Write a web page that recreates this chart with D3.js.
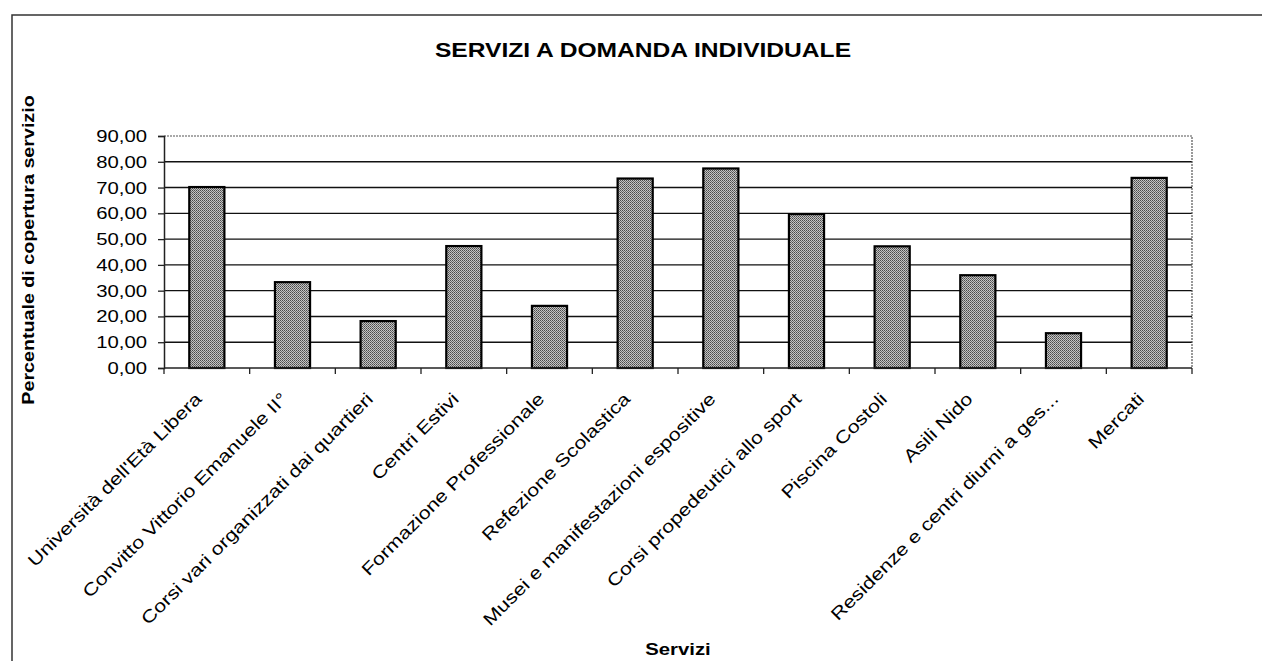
<!DOCTYPE html>
<html>
<head>
<meta charset="utf-8">
<script src="https://cdn.jsdelivr.net/npm/d3@7"></script>
<style>
  html, body { margin: 0; padding: 0; background: #fff; }
  svg { display: block; }
  text { font-family: "Liberation Sans", Arial, Helvetica, sans-serif; fill: #000; }
</style>
</head>
<body>
<svg id="chart" width="1262" height="661"></svg>
<script>
// Servizi a domanda individuale: percentuale di copertura per servizio
const categories = [
  "Università dell'Età Libera",
  "Convitto Vittorio Emanuele II°",
  "Corsi vari organizzati dai quartieri",
  "Centri Estivi",
  "Formazione Professionale",
  "Refezione Scolastica",
  "Musei e manifestazioni espositive",
  "Corsi propedeutici allo sport",
  "Piscina Costoli",
  "Asili Nido",
  "Residenze e centri diurni a ges...",
  "Mercati"
];
const coverage = [70.2, 33.3, 18.2, 47.3, 24.1, 73.5, 77.4, 59.7, 47.2, 36.0, 13.5, 73.75];
const yTicks = [0, 10, 20, 30, 40, 50, 60, 70, 80, 90];
const chartTitle = "SERVIZI A DOMANDA INDIVIDUALE";
const yTitle = "Percentuale di copertura servizio";
const xTitle = "Servizi";

const svg = d3.select("#chart");
const plot = { left: 164, right: 1192, top: 136, bottom: 368 };
const stretch = 1.23; // wide lettering

// halftone fill for the bars
const defs = svg.append("defs");
const pat = defs.append("pattern")
  .attr("id", "halftone").attr("patternUnits", "userSpaceOnUse")
  .attr("width", 2).attr("height", 2);
pat.append("rect").attr("width", 2).attr("height", 2).attr("fill", "#c4c4c4");
pat.append("rect").attr("width", 1).attr("height", 1).attr("fill", "#4a4a4a");
pat.append("rect").attr("x", 1).attr("y", 1).attr("width", 1).attr("height", 1).attr("fill", "#6a6a6a");

// outer chart frame (top and left edges)
svg.append("path")
  .attr("d", d3.line()([[12, 661], [12, 15], [1262, 15]]))
  .attr("fill", "none").attr("stroke", "#333").attr("stroke-width", 1.5);

const x = d3.scaleBand().domain(categories).range([plot.left, plot.right]).padding(0);
const y = d3.scaleLinear().domain([0, 90]).range([plot.bottom, plot.top]);

// gridlines
svg.append("g").selectAll("line")
  .data(yTicks.filter(d => d > 0 && d < 90))
  .join("line")
  .attr("x1", plot.left).attr("x2", plot.right)
  .attr("y1", d => y(d)).attr("y2", d => y(d))
  .attr("stroke", "#111").attr("stroke-width", 1.4);

// plot area border: top and right edges dotted
svg.append("path")
  .attr("d", d3.line()([[plot.left, y(90)], [plot.right, y(90)], [plot.right, y(0)]]))
  .attr("fill", "none").attr("stroke", "#555").attr("stroke-width", 1.2)
  .attr("stroke-dasharray", "2,1");

// bars
const barW = x.bandwidth() * 0.41;
svg.append("g").selectAll("rect")
  .data(categories.map((c, i) => ({ c, v: coverage[i] })))
  .join("rect")
  .attr("x", d => x(d.c) + x.bandwidth() / 2 - barW / 2)
  .attr("y", d => y(d.v))
  .attr("width", barW)
  .attr("height", d => y(0) - y(d.v))
  .attr("fill", "url(#halftone)")
  .attr("stroke", "#000").attr("stroke-width", 2.2);

// y axis
const yAxis = svg.append("g").attr("transform", `translate(${plot.left},0)`)
  .call(d3.axisLeft(y).tickValues(yTicks).tickSize(6).tickFormat(() => ""));
yAxis.select(".domain").attr("stroke", "#222").attr("stroke-width", 1.5);
yAxis.selectAll(".tick line").attr("stroke", "#222").attr("stroke-width", 1.3);

svg.append("g").selectAll("text")
  .data(yTicks)
  .join("text")
  .attr("transform", d => `translate(${plot.left - 17},${y(d)}) scale(${stretch},1)`)
  .attr("dy", "0.36em")
  .attr("text-anchor", "end")
  .attr("font-size", 16.5)
  .text(d => d3.format(".2f")(d).replace(".", ","));

// x axis with ticks at the category boundaries
const xAxis = svg.append("g").attr("transform", `translate(0,${plot.bottom})`);
xAxis.append("line")
  .attr("x1", plot.left).attr("x2", plot.right)
  .attr("stroke", "#222").attr("stroke-width", 1.5);
xAxis.selectAll("line.tk")
  .data(categories.map(c => x(c)).concat([plot.right]))
  .join("line").attr("class", "tk")
  .attr("x1", d => d).attr("x2", d => d)
  .attr("y1", 0).attr("y2", 6)
  .attr("stroke", "#222").attr("stroke-width", 1.3);

// rotated category labels
svg.append("g").selectAll("text")
  .data(categories)
  .join("text")
  .attr("transform", d => `translate(${x(d) + x.bandwidth() / 2 - 4},${plot.bottom + 32}) rotate(-45) scale(${stretch},1)`)
  .attr("text-anchor", "end")
  .attr("font-size", 17.5)
  .text(d => d);

// titles
svg.append("text")
  .attr("transform", `translate(643,57) scale(1.2,1)`)
  .attr("text-anchor", "middle")
  .attr("font-size", 20.5).attr("font-weight", "bold")
  .text(chartTitle);

svg.append("text")
  .attr("transform", `translate(28,250) rotate(-90) scale(${stretch},1)`)
  .attr("text-anchor", "middle").attr("dy", "0.36em")
  .attr("font-size", 16).attr("font-weight", "bold")
  .text(yTitle);

svg.append("text")
  .attr("transform", `translate(${(plot.left + plot.right) / 2},655) scale(${stretch},1)`)
  .attr("text-anchor", "middle")
  .attr("font-size", 16.5).attr("font-weight", "bold")
  .text(xTitle);
</script>
</body>
</html>
